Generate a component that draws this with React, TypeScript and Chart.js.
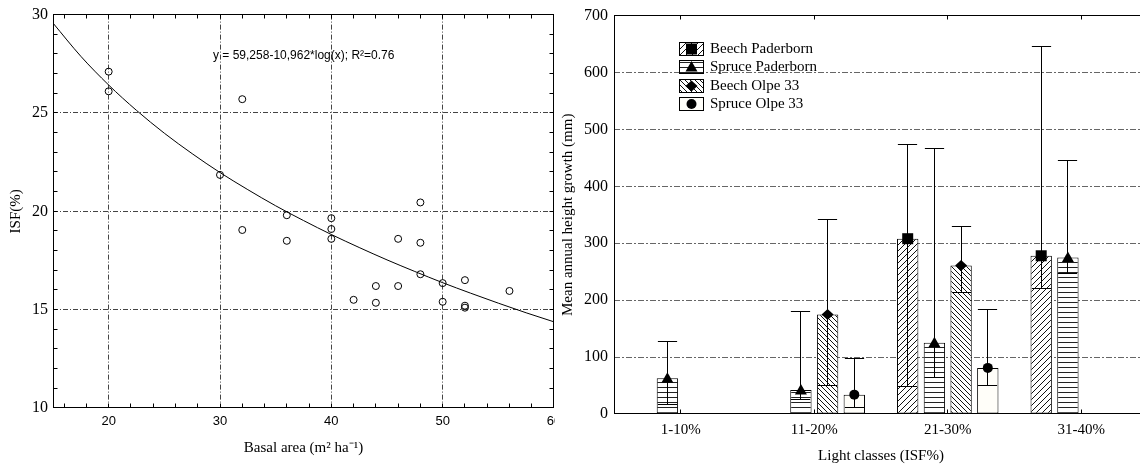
import React, { useEffect, useRef } from 'react';
import { Chart, registerables } from 'chart.js';

Chart.register(...registerables);

// ---------- Left panel: ISF vs basal area ----------
const basalArea = [20, 20, 32, 30, 32, 36, 36, 40, 40, 40, 42, 44, 44, 46, 46, 48, 48, 48, 50, 50, 52, 52, 52, 56];
const isfValues = [27.1, 26.1, 25.7, 21.85, 19.05, 19.8, 18.5, 19.65, 19.1, 18.6, 15.5, 16.2, 15.35, 18.6, 16.2, 20.45, 18.4, 16.8, 16.35, 15.4, 16.5, 15.2, 15.1, 15.95];
// fitted curve
const fitBasalArea = [15, 17.5, 20, 22.5, 25, 27.5, 30, 32.5, 35, 37.5, 40, 42.5, 45, 47.5, 50, 52.5, 55, 57.5, 60];
const fitIsf = [29.57, 27.88, 26.42, 25.13, 23.97, 22.93, 21.97, 21.1, 20.28, 19.53, 18.82, 18.16, 17.53, 16.94, 16.37, 15.84, 15.33, 14.84, 14.38];
const basalTicks = [20, 30, 40, 50, 60];
const equationText = 'y = 59,258-10,962*log(x); R²=0.76';
const leftXTitle = 'Basal area (m² ha⁻¹)';
const leftYTitle = 'ISF(%)';

// ---------- Right panel: height growth by light class ----------
const lightClasses = ['1-10%', '11-20%', '21-30%', '31-40%'];
const seriesNames = ['Beech Paderborn', 'Spruce Paderborn', 'Beech Olpe 33', 'Spruce Olpe 33'];
const beechPaderbornMean = [null, null, 308, 278];
const beechPaderbornLow = [null, null, 48, 220];
const beechPaderbornHigh = [null, null, 473, 646];
const sprucePaderbornMean = [63, 42, 125, 275];
const sprucePaderbornLow = [17, 25, 65, 247];
const sprucePaderbornHigh = [127, 180, 466, 446];
const beechOlpeMean = [null, 175, 261, null];
const beechOlpeLow = [null, 50, 213, null];
const beechOlpeHigh = [null, 342, 329, null];
const spruceOlpeMean = [null, 34, 81, null];
const spruceOlpeLow = [null, 12, 50, null];
const spruceOlpeHigh = [null, 98, 184, null];
const rightXTitle = 'Light classes (ISF%)';
const rightYTitle = 'Mean annual height growth (mm)';

const SERIF = '"Liberation Serif", "Times New Roman", serif';
const SANS = '"Liberation Sans", Arial, sans-serif';

type Kind = 'fwd' | 'horiz' | 'back' | 'plain';
const patternKinds: Kind[] = ['fwd', 'horiz', 'back', 'plain'];
const markerKinds = ['square', 'triangle', 'diamond', 'circle'];

function makePattern(kind: Kind): CanvasPattern | string {
  if (kind === 'plain') return '#fffef9';
  const size = kind === 'horiz' ? 5 : kind === 'back' ? 5 : 6;
  const c = document.createElement('canvas');
  c.width = size;
  c.height = size;
  const g = c.getContext('2d')!;
  g.fillStyle = '#ffffff';
  g.fillRect(0, 0, size, size);
  g.strokeStyle = kind === 'horiz' ? '#222' : '#111';
  g.lineWidth = 1;
  g.beginPath();
  if (kind === 'horiz') {
    g.moveTo(0, 2.5);
    g.lineTo(size, 2.5);
  } else if (kind === 'fwd') {
    g.moveTo(-1, size + 1);
    g.lineTo(size + 1, -1);
    g.moveTo(-1, 1);
    g.lineTo(1, -1);
    g.moveTo(size - 1, size + 1);
    g.lineTo(size + 1, size - 1);
  } else {
    g.moveTo(-1, -1);
    g.lineTo(size + 1, size + 1);
    g.moveTo(size - 1, -1);
    g.lineTo(size + 1, 1);
    g.moveTo(-1, size - 1);
    g.lineTo(1, size + 1);
  }
  g.stroke();
  return g.createPattern(c, 'repeat')!;
}

function drawMarker(ctx: CanvasRenderingContext2D, kind: string, x: number, y: number) {
  ctx.fillStyle = '#000';
  ctx.beginPath();
  if (kind === 'square') {
    ctx.rect(x - 5.5, y - 5.5, 11, 11);
  } else if (kind === 'triangle') {
    ctx.moveTo(x, y - 6);
    ctx.lineTo(x + 6, y + 4.5);
    ctx.lineTo(x - 6, y + 4.5);
    ctx.closePath();
  } else if (kind === 'diamond') {
    ctx.moveTo(x, y - 5.5);
    ctx.lineTo(x + 6, y);
    ctx.lineTo(x, y + 5.5);
    ctx.lineTo(x - 6, y);
    ctx.closePath();
  } else {
    ctx.arc(x, y, 5, 0, Math.PI * 2);
  }
  ctx.fill();
}

const crisp = (v: number) => Math.floor(v) + 0.5;

function leftConfig(): any {
  const points = basalArea.map((x, i) => ({ x, y: isfValues[i] }));
  const curve = fitBasalArea.map((x, i) => ({ x, y: fitIsf[i] }));
  const framePlugin = {
    id: 'leftFrame',
    beforeDatasetsDraw(chart: any) {
      const { ctx, chartArea: a, scales } = chart;
      const xs = scales.x;
      const ys = scales.y;
      ctx.save();
      ctx.strokeStyle = '#000';
      ctx.lineWidth = 1;
      const l = crisp(a.left), r = crisp(a.right - 1), t = crisp(a.top), b = crisp(a.bottom - 1);
      ctx.strokeRect(l, t, r - l, b - t);
      ctx.beginPath();
      for (let v = 16; v < 60; v += 2) {
        const px = crisp(xs.getPixelForValue(v));
        ctx.moveTo(px, b);
        ctx.lineTo(px, b - 4);
        ctx.moveTo(px, t);
        ctx.lineTo(px, t + 4);
      }
      for (let v = 11; v < 30; v += 1) {
        const py = crisp(ys.getPixelForValue(v));
        ctx.moveTo(l, py);
        ctx.lineTo(l + 4, py);
        ctx.moveTo(r, py);
        ctx.lineTo(r - 4, py);
      }
      ctx.stroke();
      ctx.restore();
    },
    afterDatasetsDraw(chart: any) {
      const { ctx, chartArea: a } = chart;
      ctx.save();
      ctx.fillStyle = '#000';
      ctx.font = `12px ${SANS}`;
      ctx.textAlign = 'left';
      ctx.textBaseline = 'middle';
      ctx.fillText(equationText, a.left + 160, a.top + 41);
      ctx.restore();
    },
  };
  return {
    type: 'scatter',
    data: {
      datasets: [
        {
          type: 'scatter',
          data: points,
          pointRadius: 3.5,
          pointBorderWidth: 1,
          pointBorderColor: '#000',
          pointBackgroundColor: 'rgba(255,255,255,0)',
          order: 0,
        },
        {
          type: 'line',
          data: curve,
          borderColor: '#000',
          borderWidth: 1,
          pointRadius: 0,
          fill: false,
          cubicInterpolationMode: 'monotone',
          order: 1,
        },
      ],
    },
    options: {
      animation: false,
      responsive: false,
      devicePixelRatio: 1,
      layout: { padding: { left: 3, top: 12, right: 46, bottom: 0 } },
      plugins: { legend: { display: false }, tooltip: { enabled: false } },
      scales: {
        x: {
          type: 'linear',
          min: 15,
          max: 60,
          afterBuildTicks: (s: any) => {
            s.ticks = basalTicks.map((v) => ({ value: v }));
          },
          afterFit: (s: any) => {
            s.height = 57;
          },
          ticks: { color: '#000', font: { family: SANS, size: 13 }, padding: 6, autoSkip: false, maxRotation: 0 },
          grid: {
            drawTicks: false,
            lineWidth: 1,
            color: (c: any) => (c.tick && c.tick.value > 15 && c.tick.value < 60 ? '#444' : 'rgba(0,0,0,0)'),
          },
          border: { display: false, dash: [5, 2, 1, 2] },
          title: { display: true, text: leftXTitle, color: '#000', font: { family: SERIF, size: 15 }, padding: { top: 0, bottom: 8 } },
        },
        y: {
          type: 'linear',
          min: 10,
          max: 30,
          afterFit: (s: any) => {
            s.width = 50;
          },
          ticks: { stepSize: 5, color: '#000', font: { family: SERIF, size: 16 }, padding: 5 },
          grid: {
            drawTicks: false,
            lineWidth: 1,
            color: (c: any) => (c.tick && c.tick.value > 10 && c.tick.value < 30 ? '#444' : 'rgba(0,0,0,0)'),
          },
          border: { display: false, dash: [5, 2, 1, 2] },
          title: { display: true, text: leftYTitle, color: '#000', font: { family: SERIF, size: 15 }, padding: { top: 4, bottom: 4 } },
        },
      },
    },
    plugins: [framePlugin],
  };
}

function rightConfig(): any {
  const means = [beechPaderbornMean, sprucePaderbornMean, beechOlpeMean, spruceOlpeMean];
  const lows = [beechPaderbornLow, sprucePaderbornLow, beechOlpeLow, spruceOlpeLow];
  const highs = [beechPaderbornHigh, sprucePaderbornHigh, beechOlpeHigh, spruceOlpeHigh];
  const patterns = patternKinds.map((k) => makePattern(k));

  const plugin = {
    id: 'rightExtras',
    beforeDatasetsDraw(chart: any) {
      const { ctx, chartArea: a, scales } = chart;
      const xs = scales.x;
      ctx.save();
      ctx.strokeStyle = '#000';
      ctx.lineWidth = 1;
      const l = crisp(a.left), r = crisp(a.right - 1), t = crisp(a.top), b = crisp(a.bottom - 1);
      ctx.strokeRect(l, t, r - l, b - t);
      ctx.beginPath();
      for (let i = 0; i < lightClasses.length; i++) {
        const px = crisp(xs.getPixelForValue(i));
        ctx.moveTo(px, b);
        ctx.lineTo(px, b - 4);
        ctx.moveTo(px, t);
        ctx.lineTo(px, t + 4);
      }
      ctx.stroke();
      ctx.restore();
    },
    afterDatasetsDraw(chart: any) {
      const { ctx, scales } = chart;
      const ys = scales.y;
      ctx.save();
      ctx.strokeStyle = '#000';
      ctx.lineWidth = 1;
      for (let d = 0; d < means.length; d++) {
        const meta = chart.getDatasetMeta(d);
        for (let j = 0; j < lightClasses.length; j++) {
          if (means[d][j] == null) continue;
          const el = meta.data[j];
          const x = crisp(el.x);
          const half = el.width * 0.45;
          const yHi = crisp(ys.getPixelForValue(highs[d][j]));
          const yLo = crisp(ys.getPixelForValue(lows[d][j]));
          ctx.beginPath();
          ctx.moveTo(x, yHi);
          ctx.lineTo(x, yLo);
          ctx.moveTo(x - half, yHi);
          ctx.lineTo(x + half, yHi);
          ctx.moveTo(x - half, yLo);
          ctx.lineTo(x + half, yLo);
          ctx.stroke();
          drawMarker(ctx, markerKinds[d], el.x, el.y);
        }
      }
      ctx.restore();
    },
    afterDraw(chart: any) {
      const { ctx, chartArea: a } = chart;
      ctx.save();
      const bx = Math.round(a.left + 65) + 0.5;
      for (let i = 0; i < seriesNames.length; i++) {
        const by = Math.round(a.top + 26 + i * 18.6) + 0.5;
        ctx.fillStyle = patterns[i] as any;
        ctx.fillRect(bx, by, 24, 13);
        ctx.strokeStyle = '#000';
        ctx.lineWidth = 1;
        ctx.strokeRect(bx, by, 24, 13);
        drawMarker(ctx, markerKinds[i], bx + 12, by + 6.5);
        ctx.fillStyle = '#000';
        ctx.font = `15px ${SERIF}`;
        ctx.textAlign = 'left';
        ctx.textBaseline = 'middle';
        ctx.fillText(seriesNames[i], bx + 30.5, by + 7);
      }
      ctx.restore();
    },
  };

  return {
    type: 'bar',
    data: {
      labels: lightClasses,
      datasets: means.map((m, i) => ({
        label: seriesNames[i],
        data: m,
        backgroundColor: patterns[i],
        borderColor: '#000',
        borderWidth: 1,
        borderSkipped: false,
        barPercentage: 0.8,
        categoryPercentage: 0.8,
      })),
    },
    options: {
      animation: false,
      responsive: false,
      devicePixelRatio: 1,
      layout: { padding: { left: 0, top: 12, right: 27, bottom: 0 } },
      plugins: { legend: { display: false }, tooltip: { enabled: false } },
      scales: {
        x: {
          type: 'category',
          afterFit: (s: any) => {
            s.height = 51;
          },
          ticks: { color: '#000', font: { family: SERIF, size: 15 }, padding: 7, autoSkip: false, maxRotation: 0 },
          grid: { display: false, drawTicks: false },
          border: { display: false },
          title: { display: true, text: rightXTitle, color: '#000', font: { family: SERIF, size: 15 }, padding: { top: 0, bottom: 0 } },
        },
        y: {
          type: 'linear',
          min: 0,
          max: 700,
          afterFit: (s: any) => {
            s.width = 59;
          },
          ticks: { stepSize: 100, color: '#000', font: { family: SERIF, size: 16 }, padding: 6 },
          grid: {
            drawTicks: false,
            lineWidth: 1,
            color: (c: any) => (c.tick && c.tick.value > 0 && c.tick.value < 700 ? '#666' : 'rgba(0,0,0,0)'),
          },
          border: { display: false, dash: [6, 2, 2, 2] },
          title: { display: true, text: rightYTitle, color: '#000', font: { family: SERIF, size: 15 }, padding: { top: 4, bottom: 4 } },
        },
      },
    },
    plugins: [plugin],
  };
}

export default function App() {
  const leftRef = useRef<HTMLCanvasElement>(null);
  const rightRef = useRef<HTMLCanvasElement>(null);
  useEffect(() => {
    const left = new Chart(leftRef.current!, leftConfig());
    const right = new Chart(rightRef.current!, rightConfig());
    return () => {
      left.destroy();
      right.destroy();
    };
  }, []);
  return (
    <div style={{ position: 'fixed', left: 0, top: 0, width: 1140, height: 465, overflow: 'hidden', background: '#fff' }}>
      <div style={{ position: 'absolute', left: 0, top: 0, width: 555, height: 465, overflow: 'hidden' }}>
        <canvas ref={leftRef} width={600} height={465} style={{ display: 'block', width: 600, height: 465 }} />
      </div>
      <div style={{ position: 'absolute', left: 555, top: 0, width: 585, height: 465, overflow: 'hidden' }}>
        <canvas ref={rightRef} width={620} height={465} style={{ display: 'block', width: 620, height: 465 }} />
      </div>
    </div>
  );
}
